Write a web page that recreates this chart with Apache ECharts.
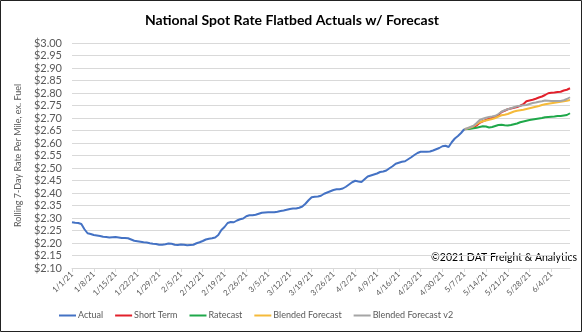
<!DOCTYPE html>
<html>
<head>
<meta charset="utf-8">
<script src="https://cdn.jsdelivr.net/npm/echarts@6/dist/echarts.min.js"></script>
<style>
html,body{margin:0;padding:0;background:#fff;}
#chart{width:584px;height:336px;}
</style>
</head>
<body>
<div id="chart"></div>
<script>
// Data (daily, starting 1/1/21)
const startDate = [2021, 0, 1];
const dayCount = 161; // 1/1/21 .. 6/10/21
const forecastStartIndex = 126; // 5/7/21

const actual = [
  2.283,2.281,2.280,2.276,2.255,2.239,2.236,2.232,2.230,2.228,
  2.225,2.224,2.222,2.223,2.224,2.222,2.220,2.220,2.219,2.214,
  2.209,2.207,2.205,2.203,2.202,2.199,2.197,2.196,2.193,2.193,
  2.195,2.198,2.197,2.193,2.192,2.194,2.193,2.191,2.192,2.193,
  2.199,2.203,2.208,2.214,2.217,2.219,2.222,2.232,2.252,2.264,
  2.280,2.284,2.283,2.290,2.295,2.298,2.307,2.311,2.311,2.313,
  2.317,2.321,2.322,2.323,2.323,2.323,2.325,2.328,2.330,2.333,
  2.336,2.338,2.338,2.341,2.346,2.357,2.371,2.383,2.385,2.386,
  2.389,2.397,2.402,2.407,2.412,2.415,2.415,2.418,2.425,2.434,
  2.443,2.449,2.446,2.444,2.455,2.466,2.470,2.474,2.478,2.484,
  2.486,2.490,2.499,2.507,2.517,2.521,2.525,2.527,2.535,2.543,
  2.552,2.560,2.565,2.565,2.565,2.566,2.570,2.575,2.580,2.587,
  2.589,2.584,2.603,2.618,2.628,2.640,2.655
];
const shortTerm = [
  2.655,2.657,2.659,2.662,2.670,2.681,2.687,2.692,2.697,2.700,
  2.703,2.712,2.724,2.729,2.735,2.738,2.741,2.744,2.749,2.755,
  2.767,2.770,2.773,2.777,2.782,2.786,2.792,2.799,2.801,2.802,
  2.804,2.805,2.810,2.813,2.819
];
const ratecast = [
  2.655,2.656,2.657,2.659,2.661,2.664,2.667,2.666,2.662,2.664,
  2.668,2.672,2.673,2.671,2.670,2.672,2.675,2.678,2.683,2.686,
  2.689,2.692,2.694,2.696,2.698,2.700,2.703,2.704,2.705,2.706,
  2.708,2.708,2.710,2.712,2.719
];
const blended = [
  2.655,2.658,2.662,2.667,2.675,2.683,2.687,2.690,2.693,2.696,
  2.700,2.706,2.711,2.713,2.716,2.721,2.726,2.729,2.731,2.733,
  2.736,2.739,2.742,2.745,2.748,2.752,2.755,2.757,2.759,2.761,
  2.763,2.765,2.767,2.769,2.772
];
const blendedV2 = [
  2.655,2.659,2.664,2.669,2.680,2.692,2.697,2.701,2.704,2.706,
  2.709,2.716,2.725,2.731,2.735,2.739,2.743,2.747,2.749,2.751,
  2.752,2.756,2.760,2.762,2.765,2.767,2.770,2.769,2.768,2.768,
  2.768,2.768,2.771,2.776,2.783
];
const seriesNames = ['Actual','Short Term','Ratecast','Blended Forecast','Blended Forecast v2'];
const seriesColors = ['#4472C4','#E2202B','#1FA84A','#F5BA3A','#A5A5A5'];

// categories
const categories = [];
for (let i = 0; i < dayCount; i++) {
  const d = new Date(startDate[0], startDate[1], startDate[2] + i);
  categories.push((d.getMonth()+1) + '/' + d.getDate() + '/' + String(d.getFullYear()).slice(2));
}
function pad(arr, offset) {
  const out = new Array(dayCount).fill(null);
  arr.forEach((v, i) => { out[offset + i] = v; });
  return out;
}
const seriesData = [
  pad(actual, 0),
  pad(shortTerm, forecastStartIndex),
  pad(ratecast, forecastStartIndex),
  pad(blended, forecastStartIndex),
  pad(blendedV2, forecastStartIndex)
];

const font = 'Lato, "Liberation Sans", sans-serif';
const chart = echarts.init(document.getElementById('chart'), null, {renderer: 'canvas'});
chart.setOption({
  animation: false,
  backgroundColor: '#fff',
  textStyle: {fontFamily: font},
  title: {
    text: 'National Spot Rate Flatbed Actuals w/ Forecast',
    left: 'center', top: 8,
    textStyle: {fontFamily: font, fontSize: 14, fontWeight: 'bold', color: '#000'}
  },
  graphic: [
    {type: 'rect', shape: {x: 0.5, y: 0.5, width: 581, height: 331}, style: {fill: 'none', stroke: '#222', lineWidth: 1}, silent: true},
    {type: 'text', right: 7, top: 252, style: {text: '\u00a92021 DAT Freight & Analytics', font: '10.5px ' + font, fill: '#000'}}
  ],
  legend: {
    bottom: 11, left: 54,
    data: seriesNames,
    icon: 'rect', itemWidth: 17, itemHeight: 2,
    itemGap: 12,
    textStyle: {fontFamily: font, fontSize: 9, color: '#595959', padding: [0,0,0,-3]}
  },
  grid: {left: 72, right: 14, top: 43, bottom: 68, containLabel: false},
  xAxis: {
    type: 'category', data: categories, boundaryGap: false,
    axisLine: {lineStyle: {color: '#d9d9d9'}},
    axisTick: {show: true, interval: 6, length: 4, lineStyle: {color: '#d9d9d9'}},
    axisLabel: {interval: 6, rotate: 45, fontSize: 8, color: '#595959', margin: 5, fontFamily: font}
  },
  yAxis: {
    type: 'value', min: 2.10, max: 3.00, interval: 0.05,
    name: 'Rolling 7-Day Rate Per Mile, ex. Fuel',
    nameLocation: 'middle', nameGap: 46, nameRotate: 90,
    nameTextStyle: {fontFamily: font, fontSize: 9, color: '#595959'},
    axisLine: {show: false}, axisTick: {show: false},
    axisLabel: {formatter: v => '$' + v.toFixed(2), fontSize: 11, color: '#595959', margin: 10, fontFamily: font},
    splitLine: {lineStyle: {color: '#d9d9d9', width: 1}}
  },
  series: seriesNames.map((n, i) => ({
    name: n, type: 'line', data: seriesData[i],
    showSymbol: false, symbol: 'none',
    lineStyle: {width: 2, color: seriesColors[i]},
    itemStyle: {color: seriesColors[i]},
    connectNulls: false,
    z: i === 0 ? 3 : 2
  }))
});
</script>
</body>
</html>
